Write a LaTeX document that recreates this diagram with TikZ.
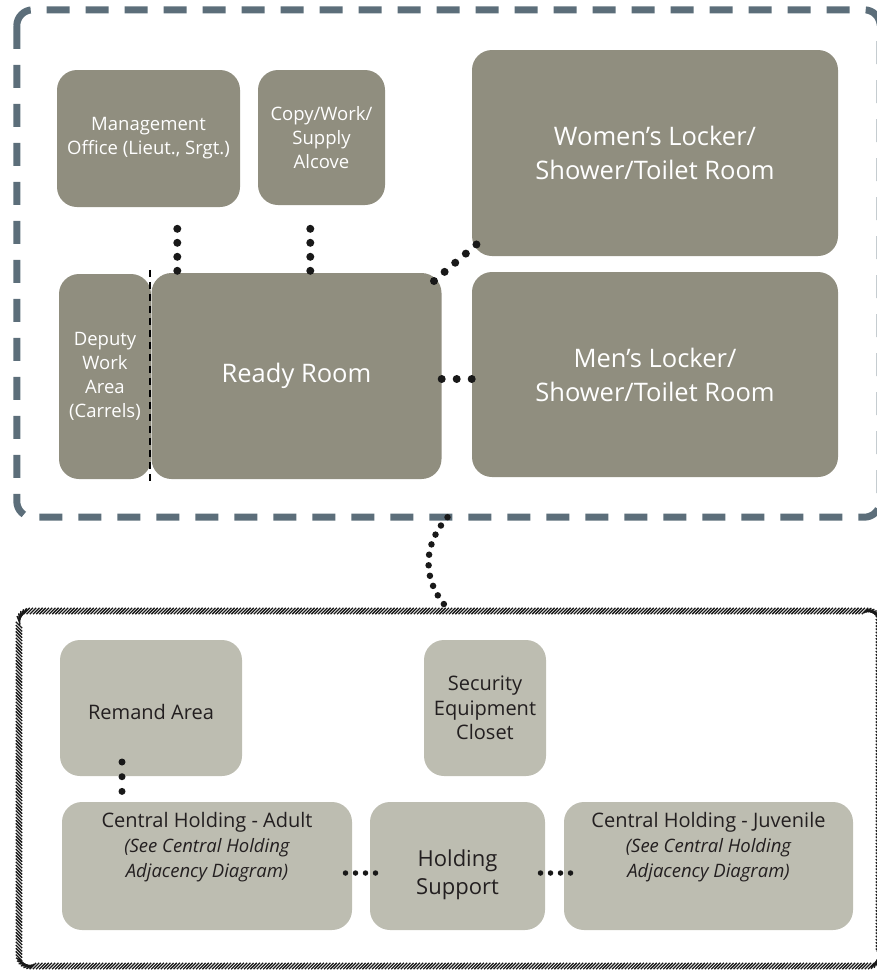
\documentclass[tikz,border=0pt]{standalone}
\usepackage{fontspec}
\setmainfont{Open Sans}
\usetikzlibrary{calc,decorations.pathreplacing}

\definecolor{roomdark}{HTML}{908E7F}
\definecolor{roomlight}{HTML}{BDBDB1}
\definecolor{framegray}{HTML}{5C6E7A}
\definecolor{inktext}{HTML}{231F20}

\newcommand{\notefont}{\fontsize{18.5}{24}\selectfont\itshape}

\tikzset{
  room/.style={rounded corners=20pt, fill=roomdark, text=white, align=center,
    inner sep=0pt, font=\fontsize{18.5}{24}\selectfont},
  bigroom/.style={room, font=\fontsize{25.5}{34}\selectfont},
  lightroom/.style={room, fill=roomlight, text=inktext, font=\fontsize{20}{24.5}\selectfont},
  roomtext/.style={align=center, inner sep=0pt, text=inktext, font=\fontsize{20}{24.5}\selectfont},
  dotline/.style={line width=8pt, line cap=round, dash pattern=on 0pt off 14pt, draw=black!90},
  smalldots/.style={line width=5.5pt, line cap=round, dash pattern=on 0pt off 10pt, draw=black!90},
  zonedash/.style={draw=framegray, line width=7pt, dash pattern=on 23pt off 16pt, rounded corners=16pt},
  hatchborder/.style={decorate, line width=1.3pt, draw=black!90,
    decoration={border, segment length=3.2pt, amplitude=9pt, angle=45}},
}

\begin{document}
\begin{tikzpicture}[x=1pt, y=-1pt]
\useasboundingbox (0,0) rectangle (877,972);

% zone outlines
\node[minimum width=863pt, minimum height=507pt, inner sep=0pt] (upper) at (448.5,263.5) {};
\draw[zonedash] (upper.north west) rectangle (upper.south east);
\node[minimum width=866pt, minimum height=361pt, inner sep=0pt] (lower) at (449,788.5) {};
\draw[hatchborder, rounded corners=14pt] (lower.north west) rectangle (lower.south east);

% staff rooms
\node[room, minimum width=183pt, minimum height=137pt] (mgmt) at (148.5,138.5)
  {Management\\Office (Lieut., Srgt.)};
\node[room, minimum width=127pt, minimum height=135pt] (copy) at (321.5,137.5)
  {Copy/Work/\\Supply\\Alcove};
\node[bigroom, minimum width=366pt, minimum height=206pt] (women) at (655,153)
  {Women’s Locker/\\Shower/Toilet Room};
\node[room, minimum width=92pt, minimum height=205pt] (deputy) at (105,376.5)
  {Deputy\\Work\\Area\\(Carrels)};
\node[bigroom, minimum width=290pt, minimum height=206pt] (ready) at (296.5,376)
  {Ready Room};
\node[bigroom, minimum width=366pt, minimum height=205pt] (men) at (655,374.5)
  {Men’s Locker/\\Shower/Toilet Room};

% shared wall between work area and ready room
\coordinate (wallTop) at ($(ready.north west)+(-1,-3)$);
\coordinate (wallBot) at ($(ready.south west)+(-1,2)$);
\draw[black, line width=2pt, dash pattern=on 7pt off 5pt] (wallTop) -- (wallBot);

% holding rooms
\node[lightroom, minimum width=182pt, minimum height=136pt] (remand) at (151,708) {};
\node[roomtext] (remandText) at ($(remand.center)+(0,4)$) {Remand Area};
\node[lightroom, minimum width=122pt, minimum height=136pt] (security) at (485,708)
  {Security\\Equipment\\Closet};
\node[lightroom, minimum width=290pt, minimum height=128pt] (adult) at (207,866) {};
\node[roomtext] (adultText) at ($(adult.center)+(0,-19)$)
  {Central Holding - Adult\\[1pt]\notefont (See Central Holding\\\notefont Adjacency Diagram)};
\node[lightroom, minimum width=175pt, minimum height=128pt] (support) at (457.5,866) {};
\node[roomtext, font=\fontsize{22}{28}\selectfont] (supportText) at ($(support.center)+(0,9)$)
  {Holding\\Support};
\node[lightroom, minimum width=289pt, minimum height=128pt] (juvenile) at (708.5,866) {};
\node[roomtext] (juvenileText) at ($(juvenile.center)+(0,-19)$)
  {Central Holding - Juvenile\\[1pt]\notefont (See Central Holding\\\notefont Adjacency Diagram)};

% adjacencies
\draw[dotline] ($(ready.north west)+(26,-2)$) -- ++(0,-56);
\draw[dotline] ($(ready.north west)+(159,-2)$) -- ++(0,-56);
\draw[dotline] (434,281) -- (477,244);
\draw[dotline, dash pattern=on 0pt off 15pt] ($(ready.east)+(0,3)$) -- ++(30,0);
\draw[line width=6.5pt, line cap=round, dash pattern=on 0pt off 10.6pt, draw=black!90]
  ($(upper.south)+(-1,0)$) .. controls +(-25,28) and +(-25,-28) .. ($(lower.north)+(-2,0)$);
\draw[dotline, line width=7pt, dash pattern=on 0pt off 14.7pt] (122,762) -- (122,806);
\draw[smalldots] (345.5,873) -- (375.5,873);
\draw[smalldots] (540.5,873) -- (570.5,873);
\end{tikzpicture}
\end{document}
